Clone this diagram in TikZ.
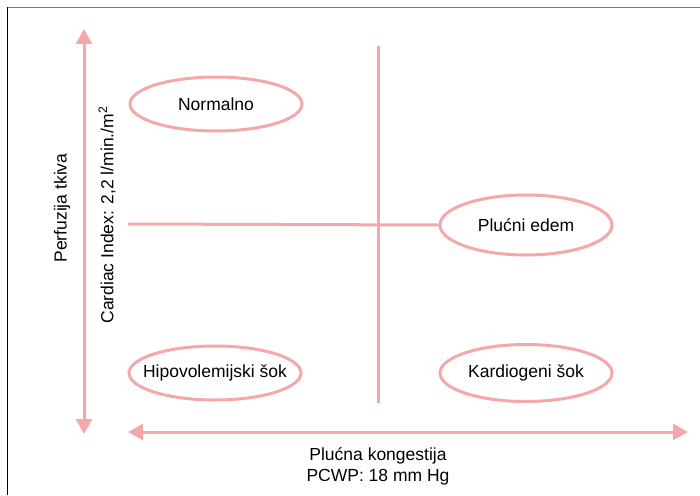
\documentclass[tikz,border=0pt]{standalone}
\usepackage{fontspec}
\setmainfont{Liberation Sans}
\usetikzlibrary{positioning,arrows.meta,shapes.geometric}
\definecolor{rosa}{RGB}{245,168,170}
\definecolor{framegray}{RGB}{120,120,120}
\tikzset{
  axis/.style={line width=3pt, draw=rosa,
    {Triangle[length=15pt,width=16pt]}-{Triangle[length=15pt,width=16pt]}},
  divider/.style={line width=3pt, draw=rosa},
  state/.style={ellipse, draw=rosa, line width=3pt, minimum width=172pt,
    minimum height=54pt, inner sep=0pt, font=\fontsize{17.5}{21}\selectfont},
  lbl/.style={font=\fontsize{17.5}{21}\selectfont}
}

\begin{document}
\begin{tikzpicture}[x=1pt,y=-1pt]
  \useasboundingbox (0,0) rectangle (700,495);
  % frame
  \coordinate (f1) at (7.5,495);
  \coordinate (f2) at (7.5,7.5);
  \coordinate (f3) at (700,7.5);
  \draw[black, line width=1.3pt] (f1) -- (f2);
  \draw[framegray, line width=1.3pt] (f2) -- (f3);

  % quadrants
  \node[state] (normal) at (216,104) {Normalno};
  \node[state, minimum height=60pt] (edem) at (526,225) {Plućni edem};
  \node[state, inner xsep=-12pt] (hipo) at (215,373) {Hipovolemijski šok};
  \node[state, minimum height=57pt] (kardio) at (526,373) {Kardiogeni šok};

  \coordinate (h1) at (128,224);
  \coordinate (v1) at (378,46);
  \coordinate (v2) at (378,403);
  \draw[divider] (h1) -- (edem.west);
  \draw[divider] (v1) -- (v2);

  % axes
  \coordinate (ytop) at (84,29);
  \coordinate (ybot) at (84,434);
  \coordinate (xleft) at (128,432);
  \coordinate (xright) at (688,432);
  \draw[axis] (ybot) -- (ytop);
  \draw[axis] (xleft) -- (xright);

  \node[lbl, rotate=90] (perf) at (62,208) {Perfuzija tkiva};
  \node[lbl, rotate=90] (ci) at (107,215) {Cardiac Index: 2,2 l/min./m\textsuperscript{2}};
  \node[lbl, align=center] (kong) at (378,466) {Plućna kongestija\\PCWP: 18 mm Hg};
\end{tikzpicture}
\end{document}
